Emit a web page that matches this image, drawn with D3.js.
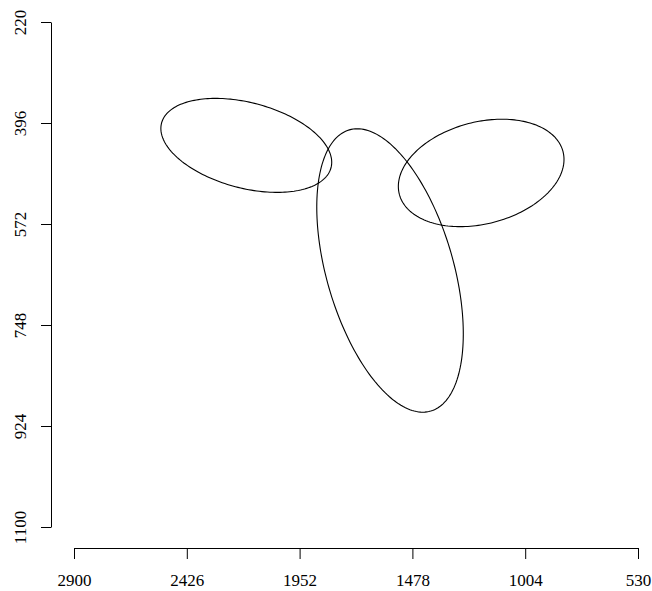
<!DOCTYPE html>
<html>
<head>
<meta charset="utf-8">
<script src="https://d3js.org/d3.v7.min.js"></script>
<style>
  body { margin: 0; background: #fff; }
  .axis text { font-family: "Liberation Serif", "Times New Roman", serif; font-size: 17px; fill: #000; }
  .axis path, .axis line { stroke: #000; stroke-width: 1; }
</style>
</head>
<body>
<svg width="652" height="591"></svg>
<script>
  // tick labels
  var xTicks = [2900, 2426, 1952, 1478, 1004, 530];
  var yTicks = [220, 396, 572, 748, 924, 1100];

  // ellipses in data units: centre, plus two conjugate semi-diameters (u, v)
  var centerX = [2176, 1572, 1189];
  var centerY = [435, 653, 483];
  var uX = [-356, -171, -344];
  var uY = [39, 245, -37];
  var vX = [46, 256, -53];
  var vY = [72, 31, 86];

  var svg = d3.select("svg");

  var x = d3.scaleLinear()
    .domain([2900, 530])
    .range([74, 638]);

  var y = d3.scaleLinear()
    .domain([220, 1100])
    .range([22, 527]);

  // x axis
  var gx = svg.append("g")
    .attr("class", "axis")
    .attr("transform", "translate(0,548)")
    .call(d3.axisBottom(x).tickValues(xTicks).tickSize(11).tickSizeOuter(0).tickFormat(d3.format("d")));
  gx.selectAll("text")
    .attr("y", 38)
    .attr("dy", 0);

  // y axis
  var gy = svg.append("g")
    .attr("class", "axis")
    .attr("transform", "translate(51,0)")
    .call(d3.axisLeft(y).tickValues(yTicks).tickSize(10).tickSizeOuter(0).tickFormat(d3.format("d")));
  gy.selectAll("text")
    .attr("x", 0)
    .attr("y", 0)
    .attr("dy", 0)
    .attr("text-anchor", "middle")
    .attr("transform", "translate(-25,0) rotate(-90)");

  gx.attr("font-family", null).attr("font-size", null);
  gy.attr("font-family", null).attr("font-size", null);

  var line = d3.line()
    .x(function(d) { return x(d[0]); })
    .y(function(d) { return y(d[1]); })
    .curve(d3.curveLinearClosed);

  var steps = d3.range(0, 200).map(function(i) { return i / 200 * 2 * Math.PI; });

  centerX.forEach(function(cx, k) {
    var pts = steps.map(function(t) {
      return [cx + uX[k] * Math.cos(t) + vX[k] * Math.sin(t),
              centerY[k] + uY[k] * Math.cos(t) + vY[k] * Math.sin(t)];
    });
    svg.append("path")
      .datum(pts)
      .attr("fill", "none")
      .attr("stroke", "#000")
      .attr("stroke-width", 1.1)
      .attr("d", line);
  });
</script>
</body>
</html>
